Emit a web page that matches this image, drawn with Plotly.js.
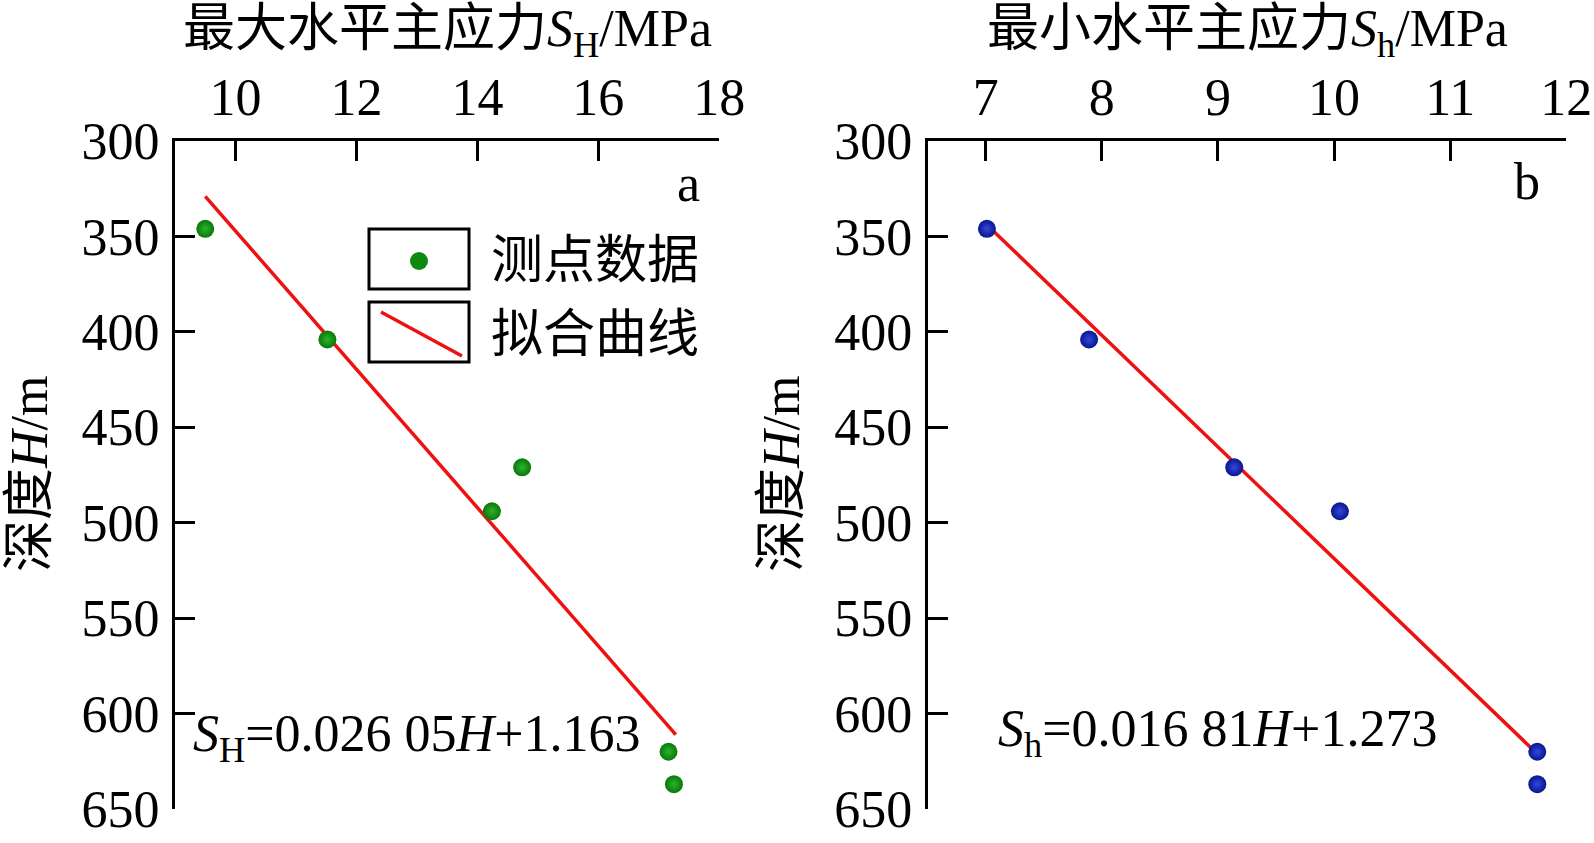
<!DOCTYPE html>
<html>
<head>
<meta charset="utf-8">
<script src="https://cdn.plot.ly/plotly-3.0.1.min.js"></script>
<style>
  body { margin: 0; padding: 0; background: #fff; }
  #stressChart { width: 1594px; height: 843px; }
</style>
</head>
<body>
<div id="stressChart"></div>
<script>
// Data
var depth = [346, 404, 471, 494, 620, 637];
var maxStress = [9.50, 11.52, 14.74, 14.24, 17.16, 17.25];
var minStress = [7.01, 7.89, 9.14, 10.05, 11.75, 11.75];

// fitted lines, end points as drawn
var fitDepthMax = [329, 611];
var fitMax = [9.50, 17.28];
var fitDepthMin = [344.5, 620.5];
var fitMin = [7.02, 11.74];

var depthTicks = [300, 350, 400, 450, 500, 550, 600, 650];
var maxTicks = [10, 12, 14, 16, 18];
var minTicks = [7, 8, 9, 10, 11, 12];

var eqMax = "<i>S</i><sub>H</sub>=0.026 05<i>H</i>+1.163";
var eqMin = "<i>S</i><sub>h</sub>=0.016 81<i>H</i>+1.273";
var titleMax = "最大水平主应力<i>S</i><sub>H</sub>/MPa";
var titleMin = "最小水平主应力<i>S</i><sub>h</sub>/MPa";
var titleDepth = "深度<i>H</i>/m";
var legendNames = ["测点数据", "拟合曲线"];

// Page size
var W = 1594;
var H = 843;
function px(x) { return x / W; }
function py(y) { return 1 - y / H; }

var FONT = "Liberation Serif, Times New Roman, Noto Sans CJK SC, serif";

function axisX(range, ticks, domain, anchor) {
    return {
        domain: domain, range: range, anchor: anchor, side: "top",
        tickmode: "array", tickvals: ticks,
        ticks: "inside", ticklen: 20, tickwidth: 3, tickcolor: "#000",
        ticklabelstandoff: 2,
        showline: true, linewidth: 3, linecolor: "#000",
        showgrid: false, zeroline: false, fixedrange: true,
        tickfont: { family: FONT, size: 52, color: "#000" }
    };
}

function axisY(anchor) {
    return {
        domain: [py(809), py(141)], range: [650, 300], anchor: anchor,
        tickmode: "array", tickvals: depthTicks,
        ticks: "inside", ticklen: 20, tickwidth: 3, tickcolor: "#000",
        ticklabelstandoff: 2,
        showline: true, linewidth: 3, linecolor: "#000",
        showgrid: false, zeroline: false, fixedrange: true,
        tickfont: { family: FONT, size: 52, color: "#000" }
    };
}

function pointsTrace(x, y, xa, ya, edge, centre) {
    return {
        x: x, y: y, xaxis: xa, yaxis: ya,
        type: "scatter", mode: "markers", showlegend: false,
        marker: { size: 18, color: edge, line: { width: 0 },
                  gradient: { type: "radial", color: centre } }
    };
}

function fitTrace(x, y, xa, ya) {
    return {
        x: x, y: y, xaxis: xa, yaxis: ya,
        type: "scatter", mode: "lines", showlegend: false,
        line: { color: "#ee1111", width: 3.5 }
    };
}

function textNote(text, x, y, opts) {
    var a = {
        text: text, xref: "paper", yref: "paper", x: px(x), y: py(y),
        showarrow: false, xanchor: "center", yanchor: "middle",
        font: { family: FONT, size: 52, color: "#000" }
    };
    for (var k in opts) { a[k] = opts[k]; }
    return a;
}

function plotStressChart() {
    var traces = [
        fitTrace(fitMax, fitDepthMax, "x", "y"),
        pointsTrace(maxStress, depth, "x", "y", "#087808", "#2cb42c"),
        fitTrace(fitMin, fitDepthMin, "x2", "y2"),
        pointsTrace(minStress, depth, "x2", "y2", "#08168c", "#3447dc")
    ];

    var annotations = [
        textNote(titleMax, 447, 33),
        textNote(titleMin, 1247, 33),
        textNote(titleDepth, 30, 474, { textangle: -90 }),
        textNote(titleDepth, 782, 474, { textangle: -90 }),
        textNote("a", 688, 184),
        textNote("b", 1527, 182),
        textNote(eqMax, 191, 737, { xanchor: "left" }),
        textNote(eqMin, 996, 732, { xanchor: "left" }),
        textNote(legendNames[0], 489, 260, { xanchor: "left" }),
        textNote(legendNames[1], 489, 334, { xanchor: "left" })
    ];

    // hand drawn legend boxes like the original
    var shapes = [
        { type: "rect", xref: "paper", yref: "paper", x0: px(369), x1: px(469), y0: py(229), y1: py(289),
          line: { color: "#000", width: 3 } },
        { type: "rect", xref: "paper", yref: "paper", x0: px(369), x1: px(469), y0: py(302), y1: py(362),
          line: { color: "#000", width: 3 } },
        { type: "circle", xref: "paper", yref: "paper", x0: px(410), x1: px(428), y0: py(252), y1: py(270),
          fillcolor: "#0d8a0d", line: { width: 0 } },
        { type: "line", xref: "paper", yref: "paper", x0: px(381), x1: px(462), y0: py(312), y1: py(356),
          line: { color: "#ee1111", width: 3.5 } }
    ];

    var layout = {
        width: W, height: H,
        margin: { l: 0, r: 0, t: 0, b: 0 },
        paper_bgcolor: "#fff", plot_bgcolor: "#fff",
        showlegend: false,
        xaxis: axisX([9, 18], maxTicks, [px(175), px(719.3)], "y"),
        yaxis: axisY("x"),
        xaxis2: axisX([6.5, 12], minTicks, [px(927.7), px(1566.3)], "y2"),
        yaxis2: axisY("x2"),
        annotations: annotations,
        shapes: shapes
    };

    Plotly.newPlot("stressChart", traces, layout, { displayModeBar: false, staticPlot: true });
}
plotStressChart();
</script>
</body>
</html>
